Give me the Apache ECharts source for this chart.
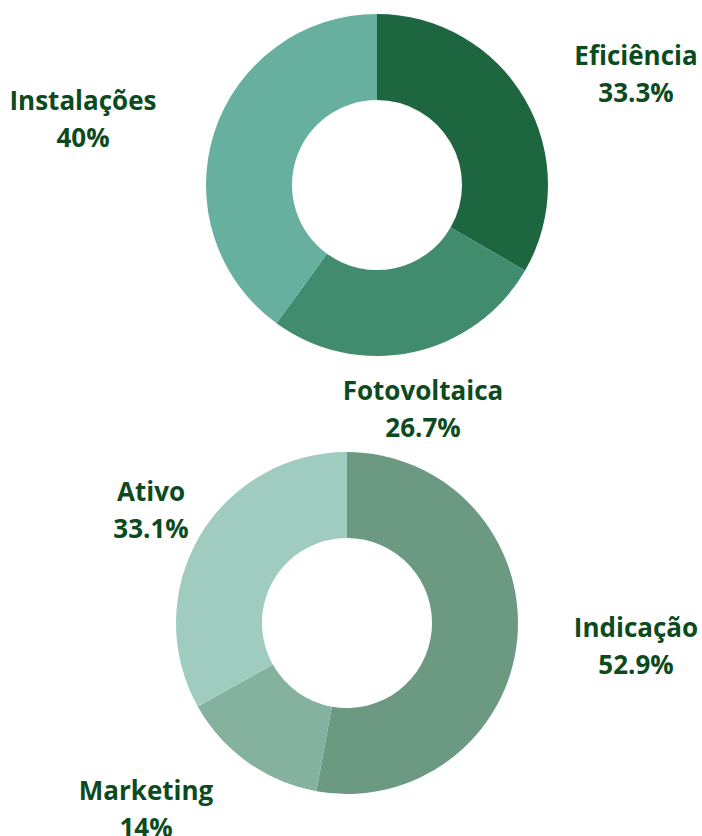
<!DOCTYPE html>
<html>
<head>
<meta charset="utf-8">
<title>Donuts</title>
<script src="https://cdn.jsdelivr.net/npm/echarts@6/dist/echarts.min.js"></script>
<style>
    html, body { margin: 0; padding: 0; background: #fff; }
    #chart { width: 702px; height: 836px; }
</style>
</head>
<body>
<div id="chart"></div>
<script>
"use strict";

/* ---------- 1. DATA ---------- */
// Top donut
const topNames  = ["Eficiência", "Fotovoltaica", "Instalações"];
const topValues = [5, 4, 6];

// Bottom donut
const bottomNames  = ["Indicação", "Marketing", "Ativo"];
const bottomValues = [83, 22, 52];

/* ---------- 2. COLOURS, FONT, LAYOUT ---------- */
const topColors    = ["#1d6640", "#418b6e", "#67b09f"];
const bottomColors = ["#6b9981", "#85b29f", "#a0ccc0"];
const TEXT = "#0c4a20";
const FONT = '"Open Sans", "Noto Sans", sans-serif';

// label centres (px) for each slice, same order as the data
const topLabelPos    = [[636, 73], [423, 408], [83, 118]];
const bottomLabelPos = [[636, 645], [146, 808], [151, 509]];

// 33.33 -> "33.3", 40.00 -> "40", 14.01 -> "14"
function pct(p) {
    return String(parseFloat(p.toPrecision(3)));
}

function donut(names, values, colors, center, labelPos) {
    return {
        type: "pie",
        center: center,
        radius: [85, 171],
        startAngle: 90,
        clockwise: true,
        avoidLabelOverlap: false,
        silent: true,
        itemStyle: { borderWidth: 0 },
        label: {
            show: true,
            color: TEXT,
            fontFamily: FONT,
            fontWeight: "bold",
            fontSize: 26,
            lineHeight: 37,
            align: "center",
            formatter: p => `${p.name}\n${pct(p.percent)}%`
        },
        labelLine: { show: false },
        labelLayout: p => ({
            x: labelPos[p.dataIndex][0],
            y: labelPos[p.dataIndex][1],
            align: "center",
            verticalAlign: "middle"
        }),
        data: names.map((n, i) => ({ name: n, value: values[i], itemStyle: { color: colors[i] } }))
    };
}

/* ---------- 3. CHART ---------- */
const chart = echarts.init(document.getElementById("chart"), null, { renderer: "svg" });
chart.setOption({
    animation: false,
    backgroundColor: "#fff",
    textStyle: { fontFamily: FONT },
    series: [
        donut(topNames, topValues, topColors, [377, 185], topLabelPos),
        donut(bottomNames, bottomValues, bottomColors, [347, 623], bottomLabelPos)
    ]
});
</script>
</body>
</html>
